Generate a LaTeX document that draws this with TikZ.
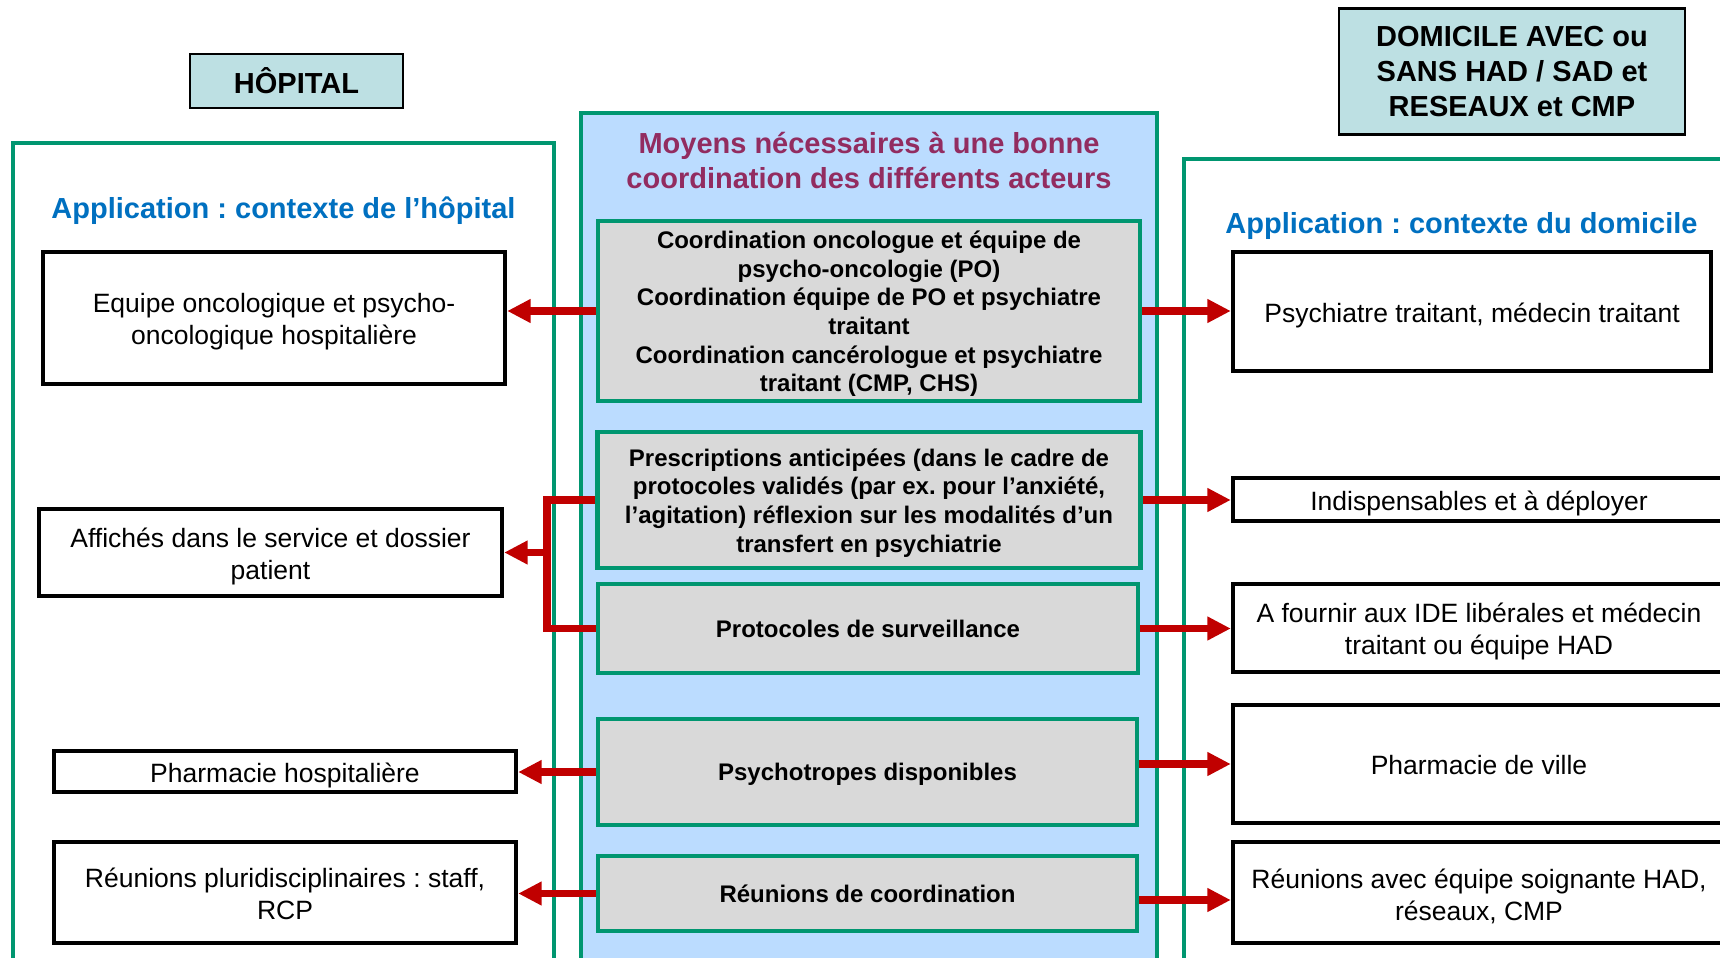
\documentclass[tikz,border=0pt]{standalone}
\usepackage{fontspec}
\setmainfont{Liberation Sans}
\usetikzlibrary{arrows.meta}
\frenchspacing
\definecolor{pgreen}{RGB}{0,150,112}
\definecolor{pblue}{RGB}{187,220,255}
\definecolor{pgray}{RGB}{217,217,217}
\definecolor{pteal}{RGB}{189,224,227}
\definecolor{pred}{RGB}{192,0,0}
\definecolor{hblue}{RGB}{0,112,192}
\definecolor{hmaroon}{RGB}{146,44,96}
\newcommand{\bxtop}[1]{\rule{0pt}{#1}}
\newcommand{\bxbot}{\rule[-0.212em]{0pt}{0pt}}
\newcommand{\tw}{\rule{0pt}{13.6pt}}
\newcommand{\tg}{\rule{0pt}{11.7pt}}
\begin{document}
\begin{tikzpicture}[x=0.5pt,y=-0.5pt,
  panel/.style={draw=pgreen,line width=2.2pt},
  whitebox/.style={draw=black,line width=2.2pt,fill=white,align=center,inner sep=0pt,
    font=\fontsize{13.25}{15.9}\selectfont,
    execute at begin node=\bxtop{1.025em}, execute at end node=\bxbot},
  whitemulti/.style={draw=black,line width=2.2pt,fill=white,align=center,inner sep=0pt,
    font=\fontsize{13.25}{15.9}\selectfont},
  graybox/.style={draw=pgreen,line width=2.4pt,fill=pgray,align=center,inner sep=0pt,
    font=\bfseries\fontsize{12}{14.35}\selectfont,
    execute at begin node=\bxtop{0.93em}, execute at end node=\bxbot},
  graymulti/.style={draw=pgreen,line width=2.4pt,fill=pgray,align=center,inner sep=0pt,
    font=\bfseries\fontsize{12}{14.35}\selectfont},
  headbox/.style={draw=black,line width=1.2pt,fill=pteal,align=center,inner sep=0pt,
    font=\bfseries\fontsize{14.5}{17.5}\selectfont},
  heading/.style={text=hblue,inner sep=0pt,font=\bfseries\fontsize{14.5}{17.5}\selectfont},
  arr/.style={draw=pred,line width=3.6pt,-{Triangle[length=11.75pt,width=11.25pt]}},
  link/.style={draw=pred,line width=3.6pt},
]
\clip (0,0) rectangle (1720,958);
\fill[white] (0,0) rectangle (1720,958);

% panels
\draw[panel,fill=white] (13,143) rectangle (554,1000);
\draw[panel,fill=pblue] (581,113) rectangle (1157,1000);
\draw[panel,fill=white] (1184,159) rectangle (1780,1000);

% header boxes
\node[headbox,minimum width=106.5pt,minimum height=27pt] (hop) at (296.5,81) {HÔPITAL};
\node[headbox,minimum width=173pt,minimum height=63pt] (dom) at (1512,71.5)
  {DOMICILE AVEC ou\\SANS HAD / SAD et\\RESEAUX et CMP};

% headings
\node[heading] (hl) at (283.5,211) {Application : contexte de l’hôpital};
\node[heading] (hr) at (1461.5,226) {Application : contexte du domicile};
\node[heading,text=hmaroon,align=center] (hm) at (869,161) {Moyens nécessaires à une bonne\\coordination des différents acteurs};

% left boxes
\node[whitemulti,minimum width=231pt,minimum height=66pt] (L1) at (274,318)
  {\tw Equipe oncologique et psycho-\\oncologique hospitalière};
\node[whitemulti,minimum width=231.5pt,minimum height=43.5pt] (L2) at (270.5,552.5)
  {\tw Affichés dans le service et dossier\\patient};
\node[whitebox,minimum width=231pt,minimum height=20.5pt] (L3) at (285,771.5)
  {Pharmacie hospitalière};
\node[whitemulti,minimum width=231pt,minimum height=50.5pt] (L4) at (285,892.5)
  {\rule{0pt}{11.4pt}Réunions pluridisciplinaires : staff,\\RCP};

% central boxes
\node[graymulti,minimum width=271pt,minimum height=90pt] (C1) at (869,311)
  {\tg Coordination oncologue et équipe de\\psycho-oncologie (PO)\\Coordination équipe de PO et psychiatre\\traitant\\Coordination cancérologue et psychiatre\\traitant (CMP, CHS)};
\node[graymulti,minimum width=271.5pt,minimum height=68pt] (C2) at (869,500)
  {\tg Prescriptions anticipées (dans le cadre de\\protocoles validés (par ex. pour l’anxiété,\\l’agitation) réflexion sur les modalités d’un\\transfert en psychiatrie};
\node[graybox,minimum width=270pt,minimum height=44.5pt] (C3) at (868,628.5)
  {Protocoles de surveillance};
\node[graybox,minimum width=269.5pt,minimum height=53pt] (C4) at (867.5,772)
  {Psychotropes disponibles};
\node[graybox,minimum width=269.5pt,minimum height=37.5pt] (C5) at (867.5,893.5)
  {Réunions de coordination};

% right boxes
\node[whitebox,minimum width=239pt,minimum height=59.5pt] (R1) at (1472,311.5)
  {Psychiatre traitant, médecin traitant};
\node[whitebox,minimum width=246pt,minimum height=21.5pt] (R2) at (1479,499.5)
  {Indispensables et à déployer};
\node[whitemulti,minimum width=246pt,minimum height=44pt] (R3) at (1479,628)
  {\tw A fournir aux IDE libérales et médecin\\traitant ou équipe HAD};
\node[whitebox,minimum width=246pt,minimum height=59pt] (R4) at (1479,764)
  {Pharmacie de ville};
\node[whitemulti,minimum width=246pt,minimum height=50.5pt] (R5) at (1479,892.5)
  {\tw Réunions avec équipe soignante HAD,\\réseaux, CMP};

% left connectors
\draw[arr] (C1.west) -- (C1.west -| L1.east);
\coordinate (bk) at (547,553);
\draw[link] (C2.west) -- (bk |- C2.west) -- (bk |- C3.west) -- (C3.west);
\draw[arr] (bk |- L2.east) -- (L2.east);
\draw[arr] (C4.west) -- (C4.west -| L3.east);
\draw[arr] (C5.west) -- (C5.west -| L4.east);

% right connectors
\draw[arr] (C1.east) -- (C1.east -| R1.west);
\draw[arr] (C2.east) -- (C2.east -| R2.west);
\draw[arr] (C3.east) -- (C3.east -| R3.west);
\draw[arr] (R4.west -| C4.east) -- (R4.west);
\draw[arr] ([yshift=-3.25pt]C5.east) -- ([yshift=-3.25pt]C5.east -| R5.west);
\end{tikzpicture}
\end{document}
